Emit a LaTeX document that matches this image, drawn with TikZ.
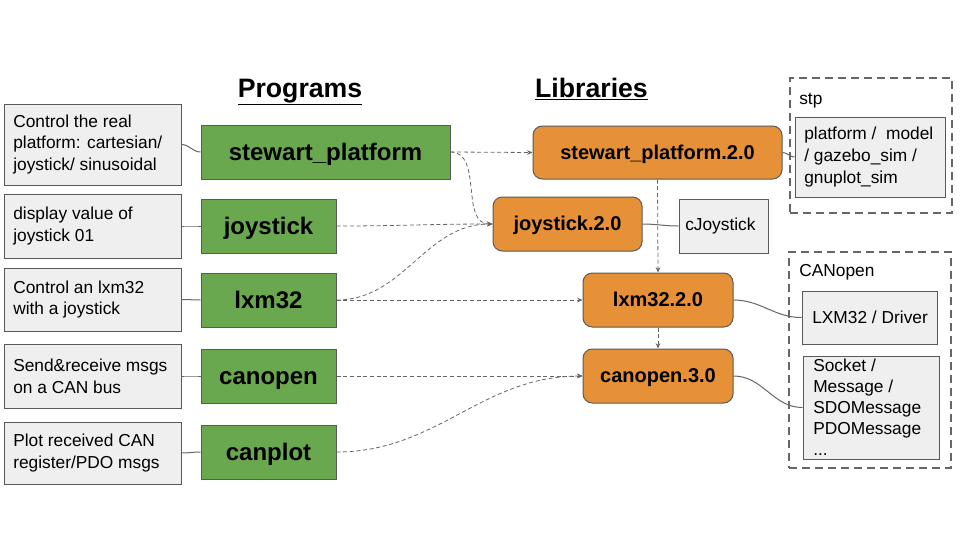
\documentclass[tikz,border=0pt]{standalone}
\usepackage{fontspec}
\setmainfont{Liberation Sans}
\usetikzlibrary{arrows.meta}
\definecolor{grn}{HTML}{6AA84F}
\definecolor{org}{HTML}{E69138}
\definecolor{gfill}{HTML}{EFEFEF}
\definecolor{edge}{HTML}{595959}
\definecolor{lnk}{HTML}{666666}
\tikzset{
 sz/.style 2 args={minimum width=#1*0.75pt, minimum height=#2*0.75pt},
 base/.style={draw=edge, line width=0.75pt, inner sep=0pt},
 desc/.style={base, fill=gfill},
 prog/.style={base, fill=grn, font=\fontsize{18}{22}\selectfont\bfseries, text height=16.3pt, text depth=3.8pt},
 lib/.style={base, fill=org, rounded corners=7pt, font=\fontsize{15}{18}\selectfont\bfseries, text height=13.6pt, text depth=3.2pt},
 txt/.style={anchor=west, align=left, inner sep=0pt, font=\fontsize{13}{16.3}\selectfont},
 group/.style={draw=lnk, line width=1.5pt, dash pattern=on 6pt off 3.75pt, inner sep=0pt},
 title/.style={font=\fontsize{20}{24}\selectfont\bfseries, anchor=base, inner sep=0pt},
 link/.style={draw=lnk, line width=0.75pt},
 dep/.style={draw=lnk, line width=0.6pt, dash pattern=on 3pt off 2pt, -{Stealth[length=4pt,width=3.5pt]}},
}
\begin{document}
\begin{tikzpicture}[x=0.75pt,y=-0.75pt]
\useasboundingbox (0,0) rectangle (960,540);

% titles
\node[title] (tprog) at (300,97) {\underline{Programs}};
\node[title] (tlib) at (591.5,97) {\underline{Libraries}};

% descriptions
\node[desc, sz={177}{81}] (d1) at (92.5,144.5) {};
\node[desc, sz={177}{64}] (d2) at (92.5,226) {};
\node[desc, sz={177}{63}] (d3) at (92.5,299.5) {};
\node[desc, sz={177}{64}] (d4) at (92.5,376) {};
\node[desc, sz={177}{62}] (d5) at (92.5,453) {};
\node[txt] (d1t) at (13,144.5) {Control the real\\platform: cartesian/\\joystick/ sinusoidal};
\node[txt] (d2t) at (13,226) {display value of\\joystick 01};
\node[txt] (d3t) at (13,299.5) {Control an lxm32\\with a joystick};
\node[txt] (d4t) at (13,376) {Send\&receive msgs\\on a CAN bus};
\node[txt] (d5t) at (13,453) {Plot received CAN\\register/PDO msgs};

% programs
\node[prog, sz={249}{54}] (g1) at (325.5,152) {stewart\_platform};
\node[prog, sz={135}{54}] (g2) at (268.5,226) {joystick};
\node[prog, sz={135}{54}] (g3) at (268.5,300) {lxm32};
\node[prog, sz={135}{54}] (g4) at (268.5,376) {canopen};
\node[prog, sz={135}{54}] (g5) at (268.5,452) {canplot};

% libraries
\node[lib, sz={249}{53}] (o1) at (657.5,152.5) {stewart\_platform.2.0};
\node[lib, sz={149}{54}] (o2) at (567.5,224) {joystick.2.0};
\node[lib, sz={150}{54}] (o3) at (658,300) {lxm32.2.0};
\node[lib, sz={150}{54}] (o4) at (658,376) {canopen.3.0};

% cJoystick
\node[desc, sz={89}{54}] (cj) at (723.5,226) {};
\node[txt] (cjt) at (685,226) {cJoystick};

% groups
\node[group, sz={162}{135}] (stp) at (871,145.5) {};
\node[txt] (stpl) at (799,101) {stp};
\node[desc, sz={150}{80}] (stpb) at (870,157) {};
\node[txt] (stpt) at (804,157) {platform /\ \ model\\/ gazebo\_sim /\\gnuplot\_sim};

\node[group, sz={162}{216}] (can) at (870,360) {};
\node[txt] (canl) at (799,272) {CANopen};
\node[desc, sz={135}{53}] (lxb) at (869.5,317.5) {};
\node[txt] (lxt) at (812,317.5) {LXM32 / Driver};
\node[desc, sz={136}{103}] (sock) at (871,407.5) {};
\node[txt, font=\fontsize{13}{15.75}\selectfont] (sockt) at (813,407.5) {Socket /\\Message /\\SDOMessage\\PDOMessage\\...};

% description links
\draw[link] (d1.east) to[out=0,in=180] (g1.west);
\draw[link] (d2.east) to[out=0,in=180] (g2.west);
\draw[link] (d3.east) to[out=0,in=180] (g3.west);
\draw[link] (d4.east) to[out=0,in=180] (g4.west);
\draw[link] (d5.east) to[out=0,in=180] (g5.west);

% dependencies
\draw[dep] (g1.east) -- (o1.west);
\draw[dep] (g1.east) to[out=0,in=180] (o2.west);
\draw[dep] (g2.east) to[out=0,in=180] (o2.west);
\draw[dep] (g3.east) to[out=0,in=180] (o2.west);
\draw[dep] (g3.east) -- (o3.west);
\draw[dep] (g4.east) -- (o4.west);
\draw[dep] (g5.east) to[out=0,in=180] (o4.west);
\draw[dep] (o1.south) -- (o3.north);
\draw[dep] (o3.south) -- (o4.north);

% library links
\draw[link] (o1.east) to[out=0,in=180] (stpb.west);
\draw[link] (o2.east) to[out=0,in=180] (cj.west);
\draw[link] (o3.east) to[out=0,in=180] (lxb.west);
\draw[link] (o4.east) to[out=0,in=180] (sock.west);
\end{tikzpicture}
\end{document}
